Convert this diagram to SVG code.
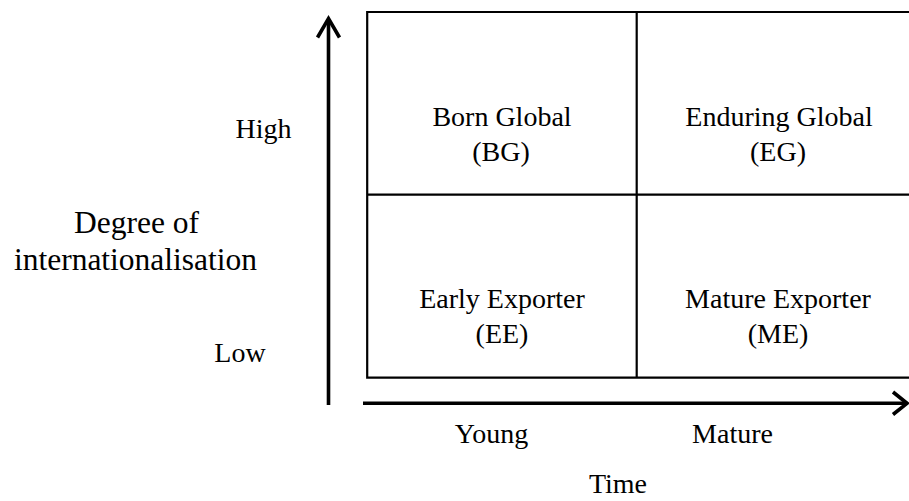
<svg xmlns="http://www.w3.org/2000/svg" width="909" height="501" viewBox="0 0 909 501">
<style>
text{font-family:"Liberation Serif","Times New Roman","DejaVu Serif",serif;font-size:28px;fill:#000;text-anchor:middle}
.axl{font-size:31.5px}
.grid{fill:none;stroke:#000;stroke-width:2.2}
.ax{fill:none;stroke:#000;stroke-width:3.6}
</style>
<rect width="909" height="501" fill="#fff"/>
<g id="connectors">
<line class="ax" x1="328.5" y1="405" x2="328.5" y2="19"/>
<polyline class="ax" points="317.5,37.5 328.5,18.5 339.5,37.5"/>
<line class="ax" x1="363" y1="403.3" x2="906" y2="403.3"/>
<polyline class="ax" points="893,392 907,403.3 893,414.5"/>
</g>
<g id="grid">
<path class="grid" d="M912,12 H367.2 V377.7 H912 M636.7,12 V377.7 M367.2,194.7 H912"/>
</g>
<g id="bg"><text x="502" y="126">Born Global</text><text x="501" y="161">(BG)</text></g>
<g id="eg"><text x="779" y="126">Enduring Global</text><text x="778" y="161">(EG)</text></g>
<g id="ee"><text x="502" y="308">Early Exporter</text><text x="502" y="343">(EE)</text></g>
<g id="me"><text x="778" y="308">Mature Exporter</text><text x="778" y="343">(ME)</text></g>
<g id="labels">
<text x="263.5" y="138">High</text>
<text x="240" y="362">Low</text>
<text class="axl" x="136.5" y="233">Degree of</text>
<text class="axl" x="135.5" y="270">internationalisation</text>
<text x="491.5" y="443">Young</text>
<text x="732.5" y="443">Mature</text>
<text x="618" y="493">Time</text>
</g>
</svg>
